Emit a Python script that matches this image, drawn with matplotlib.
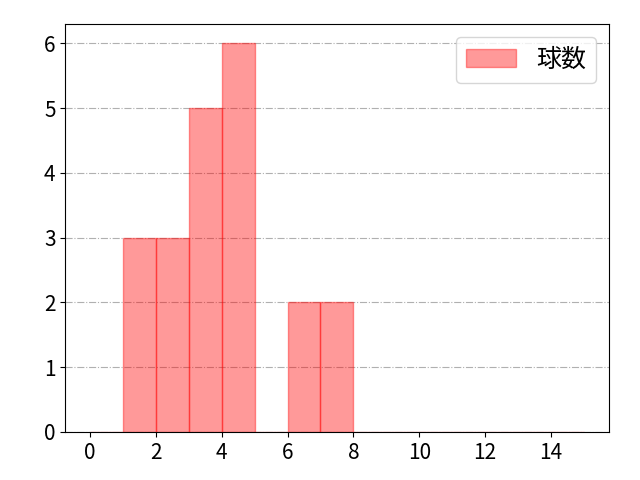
import matplotlib
matplotlib.use("Agg")
import matplotlib.pyplot as plt

plt.rcParams['font.family'] = ['Noto Sans CJK JP', 'DejaVu Sans']

# histogram bins (left edges) and their counts
bin_edges = list(range(16))
bin_left = [1, 2, 3, 4, 6, 7]
counts = [3, 3, 5, 6, 2, 2]
label = "球数"

fig, ax = plt.subplots(figsize=(6.4, 4.8), dpi=100)
fig.subplots_adjust(left=0.102, right=0.951, top=0.95, bottom=0.1)

ax.hist(bin_left, bins=bin_edges, weights=counts,
        color="red", alpha=0.4, edgecolor="red", label=label)

ax.set_axisbelow(True)
ax.grid(axis="y", linestyle="-.", color="#b0b0b0", linewidth=0.8)
ax.set_xticks(range(0, 15, 2))
ax.tick_params(labelsize=15)
ax.legend(loc="upper right", fontsize=18)

plt.savefig("out.png", dpi=100)
